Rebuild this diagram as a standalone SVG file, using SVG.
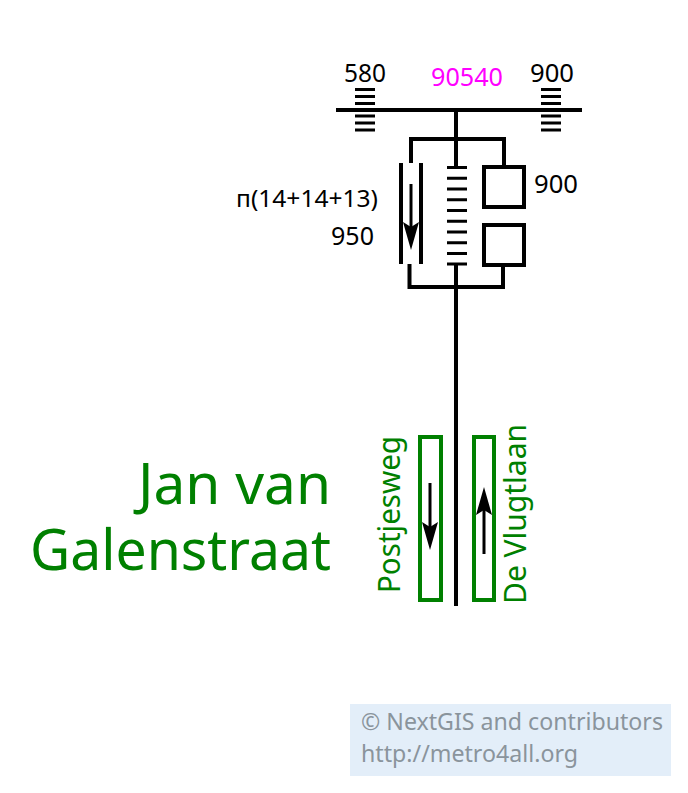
<svg xmlns="http://www.w3.org/2000/svg" width="688" height="793" viewBox="0 0 688 793">
<defs>
<style>
text{font-family:"Noto Sans","Open Sans","Liberation Sans",sans-serif}
.l{fill:none;stroke:#000;stroke-width:4}
.t{stroke-width:3}
.n{font-size:25px;fill:#000}
.g{fill:#008000}
.p{fill:#fff;stroke:#008000;stroke-width:4}
.w{font-size:24px;fill:#8a949c}
</style>
<path id="h" d="M0 0L8 -28L0 -23L-8 -28Z" fill="#000"/>
</defs>
<rect width="688" height="793" fill="#fff"/>
<g id="connectors">
<path class="l" d="M336 110H582M456 110V167M456 265V606M411 163V139H504V167M503 265V287H409.5V264"/>
</g>
<g id="stairs-580"><path class="l t" d="M355 89.5H375M355 96.5H375M355 103.5H375M355 116H375M355 123H375M355 130H375"/><text class="n" x="344" y="82" textLength="42" lengthAdjust="spacingAndGlyphs">580</text></g>
<g id="stairs-900"><path class="l t" d="M541 89.5H561M541 96.5H561M541 103.5H561M541 116H561M541 123H561M541 130H561"/><text class="n" x="530" y="82" textLength="44" lengthAdjust="spacingAndGlyphs">900</text></g>
<g id="width"><text x="431" y="86" textLength="72" lengthAdjust="spacingAndGlyphs" style="font-size:25px;fill:#f0f">90540</text></g>
<g id="escalator"><path class="l" d="M401 163V264M421 163V264"/><path class="l t" d="M411 184V235"/><use href="#h" transform="translate(411 250)"/><text class="n" x="236" y="207" textLength="142" lengthAdjust="spacingAndGlyphs" style="font-size:24px">п(14+14+13)</text><text class="n" x="331" y="245" textLength="43" lengthAdjust="spacingAndGlyphs">950</text></g>
<g id="stairs"><path class="l t" d="M447 167.5H467M447 178.3H467M447 189H467M447 199.7H467M447 210.5H467M447 221.3H467M447 232H467M447 242.7H467M447 253.5H467M447 264H467"/></g>
<g id="doors"><rect class="l" x="484" y="167" width="40" height="40"/><rect class="l" x="484" y="225" width="40" height="40"/><text class="n" x="534" y="193" textLength="44" lengthAdjust="spacingAndGlyphs">900</text></g>
<g id="platform-left"><rect class="p" x="420" y="437" width="21" height="163"/><path class="l t" d="M430 483V535"/><use href="#h" transform="translate(430 550)"/><text class="g" transform="translate(400 593) rotate(-90)" textLength="157" lengthAdjust="spacingAndGlyphs" style="font-size:30px">Postjesweg</text></g>
<g id="platform-right"><rect class="p" x="474" y="437" width="20" height="163"/><path class="l t" d="M484 554V500"/><use href="#h" transform="translate(484 487) rotate(180)"/><text class="g" transform="translate(526 604) rotate(-90)" textLength="180" lengthAdjust="spacingAndGlyphs" style="font-size:30px">De Vlugtlaan</text></g>
<g id="title"><text class="g" x="138" y="504" textLength="193" lengthAdjust="spacingAndGlyphs" style="font-size:56px">Jan van</text><text class="g" x="30" y="570" textLength="301" lengthAdjust="spacingAndGlyphs" style="font-size:56px">Galenstraat</text></g>
<g id="credit"><rect x="350" y="704" width="321" height="72" fill="#e3eef9"/><text class="w" x="361" y="730" textLength="302" lengthAdjust="spacingAndGlyphs">© NextGIS and contributors</text><text class="w" x="361" y="762" textLength="217" lengthAdjust="spacingAndGlyphs">http://metro4all.org</text></g>
</svg>
